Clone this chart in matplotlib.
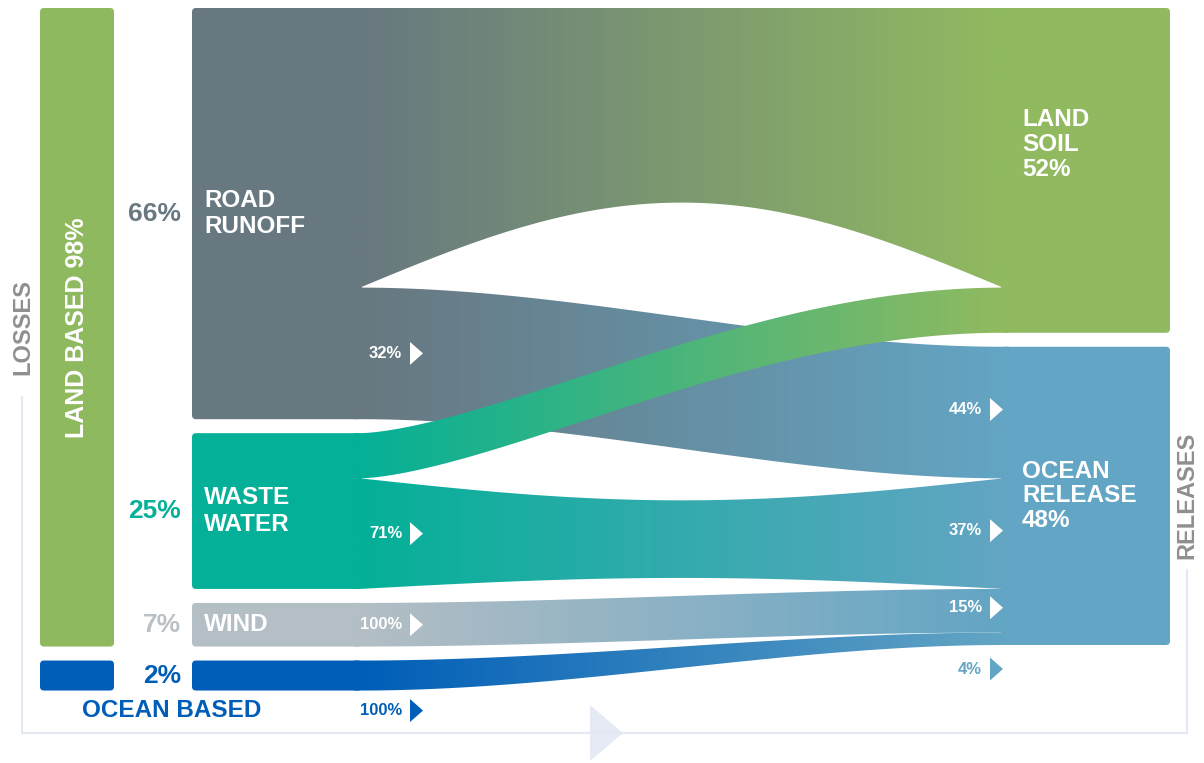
import numpy as np
import matplotlib.pyplot as plt
from matplotlib.patches import FancyBboxPatch, Polygon
from matplotlib.colors import to_rgb

plt.rcParams['font.family'] = ['Liberation Sans', 'DejaVu Sans']

# losses by source (% of total)
sources = ['ROAD\nRUNOFF', 'WASTE\nWATER', 'WIND', 'OCEAN BASED']
source_pct = [66, 25, 7, 2]
source_colors = ['#687880', '#04b097', '#b4bec5', '#005eb8']
label_colors = ['#687880', '#04b097', '#b9c1c7', '#005eb8']
# part of each source released to the ocean (%), the rest ends in land soil
to_ocean_pct = [32, 71, 100, 100]

# releases
targets = ['LAND\nSOIL', 'OCEAN\nRELEASE']
target_pct = [52, 48]
target_colors = ['#91ba60', '#63a5c4']

land_based_pct = 98

# layout (pixels)
W, H = 1204, 763
TOP, GAP, SCALE, MIN_H = 8, 14, 6.23, 30
BAR_X, BAR_W = 40, 74
SRC_X, X0, X1, TGT_X = 192, 360, 1003, 1170
LINE_C = '#e3e8f3'

fig = plt.figure(figsize=(W / 100, H / 100), dpi=100)
ax = fig.add_axes([0, 0, 1, 1])


def rbox(x, y, w, h, color, z=2):
    ax.add_patch(FancyBboxPatch((x, y), w, h, boxstyle='round,pad=0,rounding_size=4',
                                facecolor=color, edgecolor='none', zorder=z))


# source nodes
src_h = [max(p * SCALE, MIN_H) for p in source_pct]
src_y = []
y = TOP
for h in src_h:
    src_y.append(y)
    y += h + GAP

land_flow = [p * (100 - o) / 100 for p, o in zip(source_pct, to_ocean_pct)]
ocean_flow = [p * o / 100 for p, o in zip(source_pct, to_ocean_pct)]
ocean_share = [round(v / sum(ocean_flow) * 100) for v in ocean_flow]

tgt_h = [sum(land_flow) * SCALE, sum(ocean_flow) * SCALE]
tgt_y = [TOP, TOP + tgt_h[0] + GAP]

# left bars
land_bottom = src_y[2] + src_h[2]
rbox(BAR_X, TOP, BAR_W, land_bottom - TOP, '#8fb95f')
rbox(BAR_X, src_y[3], BAR_W, src_h[3], source_colors[3])

for i in range(4):
    rbox(SRC_X, src_y[i], X0 + 2 - SRC_X, src_h[i], source_colors[i])
for j in range(2):
    rbox(X1 - 2, tgt_y[j], TGT_X - X1 + 2, tgt_h[j], target_colors[j])

xs = np.linspace(X0 - 6, X1 + 6, 500)
tt = np.clip((xs - X0) / (X1 - X0), 0, 1)
bump = np.sin(np.pi * tt)


def band(a0, a1, b0, b1, c0, c1, k0=0, k1=0, warp=1.0, z=3):
    tw = tt ** warp
    ss = tw * tw * (3 - 2 * tw)
    top = a0 + (b0 - a0) * ss + k0 * bump
    bot = a1 + (b1 - a1) * ss + k1 * bump
    verts = np.vstack([np.column_stack([xs, top]), np.column_stack([xs[::-1], bot[::-1]])])
    poly = Polygon(verts, closed=True, facecolor='none', edgecolor='none')
    ax.add_patch(poly)
    rgb = np.outer(1 - tt, to_rgb(c0)) + np.outer(tt, to_rgb(c1))
    im = ax.imshow(rgb[None, :, :], extent=(xs[0], xs[-1], H, 0), aspect='auto',
                   interpolation='bilinear', zorder=z)
    im.set_clip_path(poly)


# bend styles of the ribbons (top bulge, bottom bulge, warp)
bends = {(0, 0): (0, -85, 1.0), (1, 0): (0, 0, 0.8), (1, 1): (22, -11, 1.0)}

land_cur = tgt_y[0]
ocean_cur = tgt_y[1]
for i in range(4):
    hl = src_h[i] * (100 - to_ocean_pct[i]) / 100
    ho = src_h[i] - hl
    rl = land_flow[i] * SCALE
    ro = ocean_flow[i] * SCALE
    if hl > 0:
        k = bends.get((i, 0), (0, 0, 1.0))
        band(src_y[i], src_y[i] + hl, land_cur, land_cur + rl,
             source_colors[i], target_colors[0], *k, z=4 if i == 1 else 3)
    k = bends.get((i, 1), (0, 0, 1.0))
    band(src_y[i] + hl, src_y[i] + src_h[i], ocean_cur, ocean_cur + ro,
         source_colors[i], target_colors[1], *k)
    land_cur += rl
    ocean_cur += ro

ax.set_xlim(0, W)
ax.set_ylim(H, 0)
ax.axis('off')


def tri_label(x_tip, y, text, color):
    ax.add_patch(Polygon([(x_tip - 13, y - 11.5), (x_tip - 13, y + 11.5), (x_tip, y)],
                         closed=True, facecolor=color, edgecolor='none', zorder=6))
    ax.text(x_tip - 21, y, text, ha='right', va='center', color=color,
            fontsize=12, fontweight='bold', zorder=6)


# labels
ax.text(BAR_X + BAR_W / 2, (TOP + land_bottom) / 2, f'LAND BASED {land_based_pct}%',
        rotation=90, ha='center', va='center', color='white', fontsize=18,
        fontweight='bold', zorder=6)
ax.text(23, 327, 'LOSSES', rotation=90, ha='center', va='center', color='#8f8f8f',
        fontsize=17, fontweight='bold')
ax.text(1187, 495, 'RELEASES', rotation=90, ha='center', va='center', color='#8f8f8f',
        fontsize=17, fontweight='bold')

for i in range(4):
    cy = src_y[i] + src_h[i] / 2
    ax.text(SRC_X - 11, cy, f'{source_pct[i]}%', ha='right', va='center',
            color=label_colors[i], fontsize=19, fontweight='bold', zorder=6)
    if i < 3:
        ax.text(SRC_X + 12, cy, sources[i], ha='left', va='center', color='white',
                fontsize=17.5, fontweight='bold', linespacing=1.2, zorder=6)
        hl = src_h[i] * (100 - to_ocean_pct[i]) / 100
        tri_label(X0 + 63, src_y[i] + hl + (src_h[i] - hl) / 2,
                  f'{to_ocean_pct[i]}%', 'white')
    else:
        ax.text(82, src_y[i] + src_h[i] + 20, sources[i], ha='left', va='center',
                color=source_colors[i], fontsize=17.5, fontweight='bold', zorder=6)
        tri_label(X0 + 63, src_y[i] + src_h[i] + 20, f'{to_ocean_pct[i]}%',
                  source_colors[i])

cur = tgt_y[1]
for i in range(4):
    h = ocean_flow[i] * SCALE
    if i < 3:
        tri_label(X1, cur + h / 2 - 3, f'{ocean_share[i]}%', 'white')
    else:
        tri_label(X1, tgt_y[1] + tgt_h[1] + 24, f'{ocean_share[i]}%', target_colors[1])
    cur += h

label_pos = [0.42, 0.5]
for j in range(2):
    ax.text(X1 + 19, tgt_y[j] + tgt_h[j] * label_pos[j], f'{targets[j]}\n{target_pct[j]}%',
            ha='left', va='center', color='white', fontsize=17.5, fontweight='bold',
            linespacing=1.1, zorder=6)

# bracket and arrow
ax.plot([22, 22, 1187, 1187], [397, 733, 733, 570], color=LINE_C, lw=1.5,
        solid_joinstyle='miter')
ax.add_patch(Polygon([(590, 705), (590, 761), (623, 733)], closed=True,
                     facecolor='#e6eaf4', edgecolor='none'))

fig.savefig('out.png', dpi=100)
